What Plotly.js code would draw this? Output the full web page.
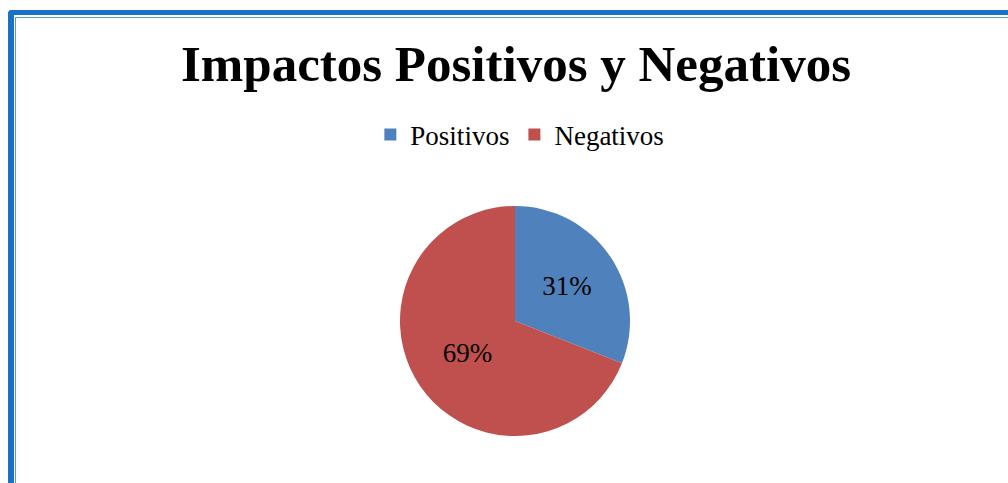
<!DOCTYPE html>
<html>
<head>
<meta charset="utf-8">
<script src="https://cdn.plot.ly/plotly-3.0.1.min.js"></script>
<style>
  html, body { margin: 0; padding: 0; background: #fff; }
  #wrap { position: relative; width: 1008px; height: 483px; overflow: hidden; }
  #chart { position: absolute; left: 0; top: 0; width: 1008px; height: 483px; }
  #outer { position: absolute; left: 8px; top: 10px; width: 1100px; height: 600px;
           border-left: 6px solid #1a72c6; border-top: 5px solid #1a72c6; border-top-left-radius: 4px; pointer-events: none; }
  #inner { position: absolute; left: 15px; top: 17px; width: 1100px; height: 465px;
           border-left: 1px solid #5b9bd5; border-top: 1px solid #5b9bd5; border-bottom: 2px solid #2f86d6; pointer-events: none; }
</style>
</head>
<body>
<div id="wrap">
  <div id="chart"></div>
  <div id="outer"></div>
  <div id="inner"></div>
</div>
<script>
const categories = ["Positivos", "Negativos"];
const values = [31, 69];
const colors = ["#4F81BD", "#C0504D"];
const titleText = "Impactos Positivos y Negativos";

const data = [{
  type: "pie",
  labels: categories,
  values: values,
  marker: { colors: colors, line: { color: "#ffffff", width: 0 } },
  sort: false,
  direction: "clockwise",
  rotation: 0,
  textinfo: "percent",
  textposition: "inside",
  insidetextorientation: "horizontal",
  texttemplate: "%{percent:.0%}",
  textfont: { family: "Liberation Serif, serif", size: 27, color: "#000000" },
  hoverinfo: "label+percent"
}];

const layout = {
  width: 1008,
  height: 483,
  paper_bgcolor: "#ffffff",
  plot_bgcolor: "#ffffff",
  margin: { l: 30, r: 8, t: 206, b: 47 },
  title: {
    text: "<b>" + titleText + "</b>",
    font: { family: "Liberation Serif, serif", size: 51, color: "#000000" },
    x: 0.501, xanchor: "center", xref: "paper",
    y: 1 - 63 / 483, yanchor: "middle", yref: "container"
  },
  showlegend: true,
  legend: {
    orientation: "h",
    x: 0.505, xanchor: "center",
    y: 1.309, yanchor: "middle",
    font: { family: "Liberation Serif, serif", size: 27, color: "#000000" },
    itemsizing: "constant",
    itemwidth: 30,
    traceorder: "normal"
  }
};

Plotly.newPlot("chart", data, layout, { displayModeBar: false, staticPlot: true });
</script>
</body>
</html>
